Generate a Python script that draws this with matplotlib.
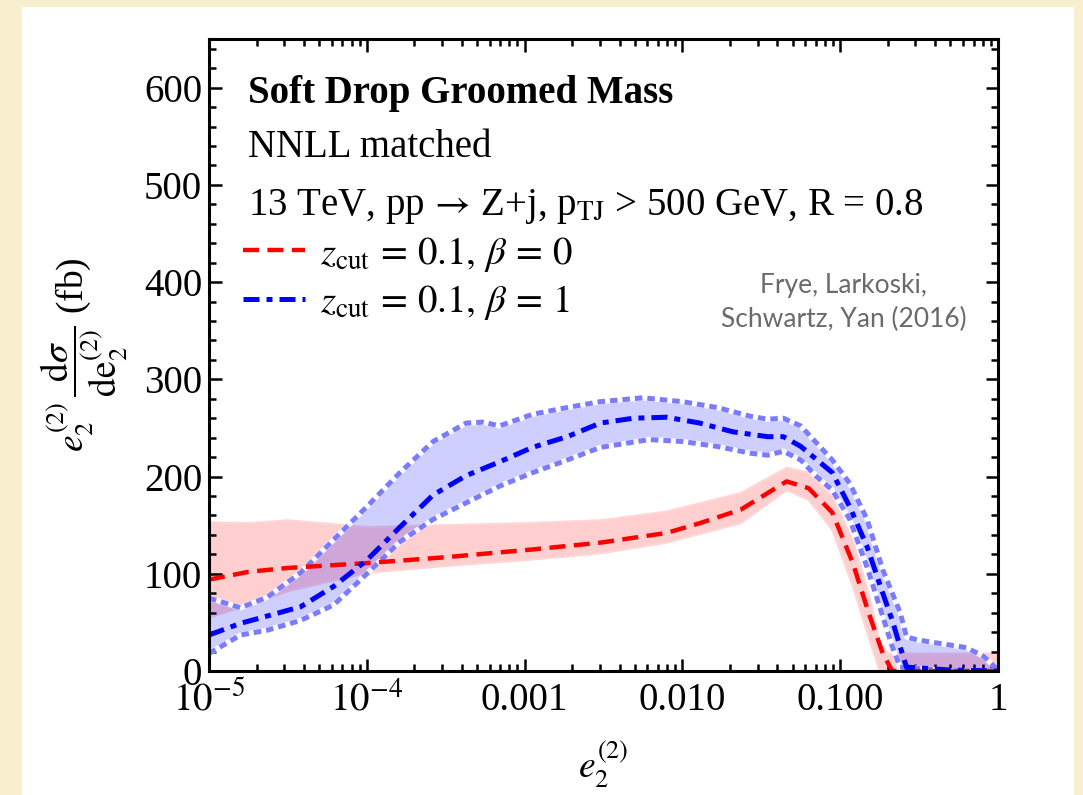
import numpy as np
import matplotlib
matplotlib.use("Agg")
import matplotlib.pyplot as plt
from matplotlib.patches import Rectangle

# ---------------- data (log10 of e2 and values in fb) ----------------
red_logx = [-5.0, -4.75, -4.5, -4.0, -3.5, -3.16, -2.95, -2.52, -2.31, -2.10, -1.89,
            -1.63, -1.46, -1.34, -1.20, -1.05, -0.92, -0.82, -0.73, -0.67, -0.5, 0.0]
red_mid = [94, 102, 106, 111, 117, 122, 125, 132, 137, 142, 152,
           166, 183, 195, 188, 163, 111, 60, 18, 0, 0, 0]

red_band_logx = [-5.0, -4.75, -4.5, -4.0, -3.5, -3.0, -2.52, -2.10, -1.63, -1.34, -1.20,
                 -1.05, -0.92, -0.82, -0.75, -0.70, -0.5, 0.0]
red_up = [153, 152, 155, 148, 150, 152, 155, 164, 183, 209, 204,
          179, 135, 80, 30, 18, 18, 18]
red_lo = [55, 68, 82, 101, 108, 114, 121, 132, 152, 186, 176,
          145, 87, 35, 0, 0, 0, 0]

blue_logx = [-5.0, -4.80, -4.42, -4.21, -4.0, -3.79, -3.58, -3.37, -3.16, -2.95, -2.73,
             -2.52, -2.31, -2.10, -1.89, -1.68, -1.46, -1.36, -1.25, -1.05, -0.94,
             -0.83, -0.73, -0.67, -0.62, -0.58, -0.3, 0.0]
blue_mid = [37, 49, 66, 87, 114, 148, 181, 201, 215, 230, 241,
            255, 260, 261, 255, 246, 241, 241, 231, 204, 169,
            128, 80, 52, 25, 4, 1, 0]

blue_up_logx = [-5.0, -4.80, -4.63, -4.42, -4.21, -4.0, -3.79, -3.58, -3.37, -3.26, -3.16,
                -2.95, -2.73, -2.52, -2.25, -2.00, -1.78, -1.57, -1.46, -1.36, -1.25,
                -1.05, -0.94, -0.83, -0.73, -0.62, -0.58, -0.51, -0.20, -0.09, 0.0]
blue_up = [75, 65, 76, 101, 135, 169, 204, 236, 255, 256, 252,
           264, 271, 277, 281, 277, 271, 262, 259, 260, 252,
           217, 193, 156, 104, 60, 35, 32, 24, 15, 1]

blue_lo_logx = [-5.0, -4.80, -4.63, -4.42, -4.21, -4.0, -3.79, -3.58, -3.37, -3.16, -2.95,
                -2.73, -2.52, -2.21, -2.00, -1.78, -1.57, -1.46, -1.36, -1.25, -1.15,
                -1.05, -0.94, -0.83, -0.73, -0.67, -0.62, -0.3, 0.0]
blue_lo = [18, 37, 42, 52, 68, 100, 133, 156, 173, 190, 204,
           217, 230, 238, 236, 231, 224, 222, 226, 217, 200,
           186, 156, 107, 56, 25, 4, 0, 0]

xtick_vals = [1e-5, 1e-4, 1e-3, 1e-2, 1e-1, 1]
xtick_labels = [r"$10^{-5}$", r"$10^{-4}$", "0.001", "0.010", "0.100", "1"]
ytick_vals = [0, 100, 200, 300, 400, 500, 600]

label_red = r"$z_{\mathrm{cut}}\, =\, 0.1,\, \beta\, =\, 0$"
label_blue = r"$z_{\mathrm{cut}}\, =\, 0.1,\, \beta\, =\, 1$"

# ---------------- style ----------------
plt.rcParams['font.family'] = ['Liberation Serif', 'DejaVu Serif']
plt.rcParams['mathtext.fontset'] = 'stix'

fig = plt.figure(figsize=(10.83, 7.95), dpi=100)
fig.patch.set_facecolor('#f8efcf')
fig.patches.append(Rectangle((22 / 1083, 0), (1074 - 22) / 1083, 1 - 7 / 795,
                             transform=fig.transFigure, facecolor='white',
                             edgecolor='none', zorder=-10))

ax = fig.add_axes([209 / 1083, 1 - 671 / 795, (998 - 209) / 1083, (671 - 39) / 795])
ax.set_facecolor('white')

def X(lx):
    return 10.0 ** np.asarray(lx, dtype=float)

# red band
ax.fill_between(X(red_band_logx), red_lo, red_up, color='#ff2020', alpha=0.22,
                linewidth=0, zorder=1)
ax.plot(X(red_band_logx), red_up, color='#ffd6d6', lw=1.5, zorder=1.1)
ax.plot(X(red_band_logx), red_lo, color='#ffd6d6', lw=1.5, zorder=1.1)

# blue band
ax.fill_between(X(blue_up_logx), np.interp(blue_up_logx, blue_lo_logx, blue_lo), blue_up,
                color='#2020ff', alpha=0.22, linewidth=0, zorder=2)
for lx, ly in ((blue_up_logx, blue_up), (blue_lo_logx, blue_lo)):
    ax.plot(X(lx), ly, color='white', lw=4.0, alpha=0.85, zorder=2.5)
    ax.plot(X(lx), ly, color='#7b7bff', lw=3.6, dashes=(1.5, 1.0),
            dash_capstyle='butt', zorder=3)

# central curves
ax.plot(X(red_logx), red_mid, color='#ff0000', lw=3.2, dashes=(3.6, 1.9),
        dash_capstyle='butt', zorder=4, label=label_red)
ax.plot(X(blue_logx), blue_mid, color='#0000ff', lw=3.6, dashes=(3.2, 1.4, 1.2, 1.4),
        dash_capstyle='butt', zorder=5, label=label_blue)

ax.set_xscale('log')
ax.set_xlim(1e-5, 1)
ax.set_ylim(0, 650)
ax.set_xticks(xtick_vals)
ax.set_xticklabels(xtick_labels)
ax.set_yticks(ytick_vals)
ax.yaxis.set_minor_locator(matplotlib.ticker.MultipleLocator(20))
ax.xaxis.set_minor_locator(matplotlib.ticker.LogLocator(base=10, subs=np.arange(2, 10)))
ax.xaxis.set_minor_formatter(matplotlib.ticker.NullFormatter())

for s in ax.spines.values():
    s.set_linewidth(2.2)
    s.set_zorder(10)
ax.tick_params(which='both', direction='in', top=True, right=True, width=1.8,
               labelsize=28, colors='black')
ax.tick_params(which='major', length=9)
ax.tick_params(axis='x', which='major', pad=8)
ax.tick_params(axis='y', which='major', pad=5)
ax.tick_params(which='minor', length=5)

ax.set_xlabel(r"$e_2^{(2)}$", fontsize=27, labelpad=14)
ax.set_ylabel(r"$e_2^{(2)}\,\dfrac{\mathrm{d}\sigma}{\mathrm{d}\mathrm{e}_2^{(2)}}$ (fb)",
              fontsize=27, labelpad=10)

# texts
ax.text(0.049, 0.899, "Soft Drop Groomed Mass", transform=ax.transAxes,
        fontsize=28, fontweight='bold', ha='left', va='baseline')
ax.text(0.049, 0.813, "NNLL matched", transform=ax.transAxes,
        fontsize=28, ha='left', va='baseline')
ax.text(0.049, 0.722,
        r"13 TeV, pp$\,\rightarrow\,$Z+j, p$_{\mathrm{TJ}}$ > 500 GeV, R = 0.8",
        transform=ax.transAxes, fontsize=28, ha='left', va='baseline')
ax.text(0.804, 0.583, "Frye, Larkoski,\nSchwartz, Yan (2016)", transform=ax.transAxes,
        fontsize=19, color='#6a6a6a', ha='center', va='center',
        family=['Lato', 'DejaVu Sans'], linespacing=1.45)

leg = ax.legend(loc='upper left', bbox_to_anchor=(0.043, 0.690), frameon=False,
                fontsize=28, handlelength=1.6, handletextpad=0.39,
                labelspacing=0.24, borderaxespad=0.0, borderpad=0.0)

fig.savefig("out.png", dpi=100, facecolor=fig.get_facecolor())
